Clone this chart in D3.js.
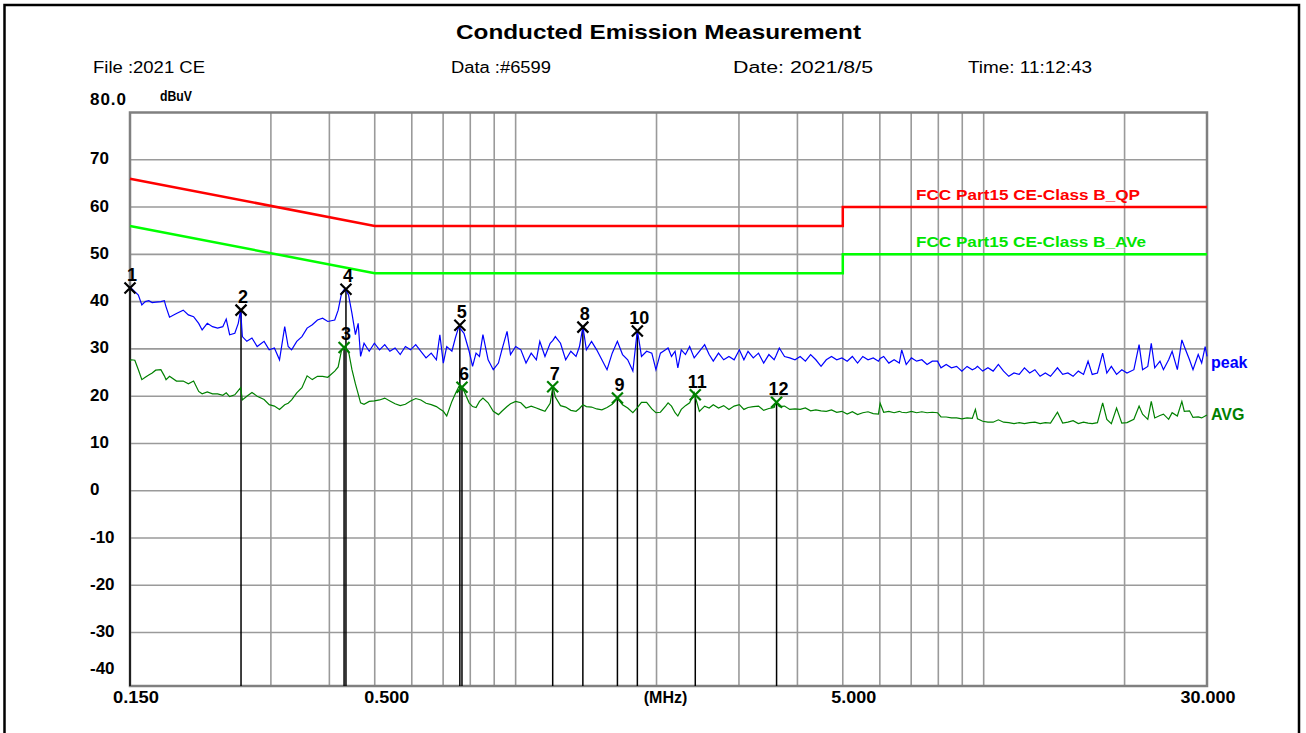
<!DOCTYPE html>
<html>
<head>
<meta charset="utf-8">
<script src="https://cdn.jsdelivr.net/npm/d3@7/dist/d3.min.js"></script>
<style>
  html, body { margin: 0; padding: 0; background: #fff; }
  svg text { font-family: "Liberation Sans", Arial, sans-serif; }
</style>
</head>
<body>
<div id="chart"></div>
<script>
// header texts
const titleText = "Conducted Emission Measurement";
const headerLabels = ["File :2021 CE", "Data :#6599", "Date: 2021/8/5", "Time: 11:12:43"];

// scan frequencies (MHz) with peak / average readings (dBuV)
const freqMHz = [
  0.150, 0.1511, 0.1536, 0.1563, 0.1590, 0.1617, 0.1645, 0.1673, 0.1702, 0.1746,
  0.1776, 0.1791, 0.1822, 0.1885, 0.1949, 0.1999, 0.2051, 0.2103, 0.2139, 0.2194,
  0.2251, 0.2308, 0.2368, 0.2408, 0.2449, 0.2512, 0.2555, 0.2585, 0.2607, 0.2665,
  0.2733, 0.2804, 0.2901, 0.2975, 0.3052, 0.3130, 0.3211, 0.3266, 0.3322, 0.3407,
  0.3495, 0.3585, 0.3678, 0.3772, 0.3869, 0.3969, 0.4107, 0.4177, 0.4248, 0.4321,
  0.4395, 0.4470, 0.4547, 0.4609, 0.4664, 0.4744, 0.4866, 0.4991, 0.5120, 0.5252,
  0.5387, 0.5526, 0.5668, 0.5814, 0.5964, 0.6117, 0.6275, 0.6436, 0.6602, 0.6772,
  0.6888, 0.7006, 0.7125, 0.7309, 0.7434, 0.7561, 0.7756, 0.7955, 0.8091, 0.8230,
  0.8370, 0.8514, 0.8734, 0.8958, 0.9189, 0.9346, 0.9587, 0.9751, 1.0002, 1.0260,
  1.0524, 1.0796, 1.1074, 1.1263, 1.1553, 1.1851, 1.2013, 1.2157, 1.2470, 1.2792,
  1.3121, 1.3460, 1.3690, 1.3924, 1.4162, 1.4527, 1.4900, 1.5285, 1.5678, 1.6082,
  1.6495, 1.6920, 1.7356, 1.7802, 1.8199, 1.8573, 1.9051, 1.9541, 1.9941, 2.0386,
  2.0910, 2.117, 2.153, 2.191, 2.221, 2.259, 2.306, 2.354, 2.407, 2.469,
  2.534, 2.591, 2.644, 2.713, 2.783, 2.856, 2.930, 3.006, 3.074, 3.137,
  3.219, 3.303, 3.388, 3.476, 3.567, 3.598, 3.659, 3.754, 3.852, 3.952,
  4.055, 4.160, 4.268, 4.379, 4.493, 4.610, 4.730, 4.853, 4.979, 5.109,
  5.241, 5.377, 5.517, 5.661, 5.808, 5.959, 6.009, 6.114, 6.272, 6.436,
  6.603, 6.681, 6.831, 7.008, 7.191, 7.377, 7.569, 7.766, 7.968, 8.105,
  8.316, 8.532, 8.754, 8.981, 9.215, 9.455, 9.601, 9.700, 9.952, 10.211,
  10.476, 10.749, 11.028, 11.315, 11.609, 11.911, 12.220, 12.538, 12.864, 13.198,
  13.541, 13.893, 14.376, 14.749, 15.133, 15.526, 15.930, 16.343, 16.711, 17.057,
  17.501, 17.956, 18.328, 18.740, 19.227, 19.727, 20.239, 20.936, 21.480, 21.851,
  22.419, 22.806, 23.200, 23.804, 24.214, 24.843, 25.271, 25.929, 26.511, 26.831,
  27.527, 28.004, 28.730, 29.225, 29.729, 30.000
];
const peakDb = [
  43.2, 42.8, 42.1, 41.4, 39.3, 40.0, 40.2, 39.8, 39.9, 40.0,
  40.2, 38.9, 36.7, 37.5, 38.2, 37.2, 36.8, 35.4, 34.0, 35.4,
  34.7, 34.4, 34.7, 36.3, 33.0, 33.3, 35.4, 38.2, 32.6, 31.6,
  32.3, 30.5, 31.6, 29.8, 30.2, 27.7, 34.7, 30.5, 29.8, 31.6,
  32.6, 34.4, 35.1, 36.1, 36.5, 35.8, 36.1, 38.2, 41.8, 42.8,
  41.4, 37.5, 33.0, 35.4, 28.4, 31.2, 29.5, 31.2, 29.8, 30.9,
  29.5, 30.2, 28.8, 30.5, 29.8, 30.9, 29.5, 28.1, 29.1, 27.7,
  33.0, 27.0, 30.5, 29.5, 32.3, 34.7, 33.3, 29.5, 26.3, 29.1,
  28.4, 33.0, 27.7, 25.6, 27.0, 29.8, 33.7, 28.8, 30.5, 29.8,
  27.0, 29.1, 27.7, 31.6, 28.4, 31.2, 31.8, 32.6, 31.2, 27.7,
  29.5, 28.4, 30.5, 34.7, 29.8, 31.6, 29.8, 27.7, 25.6, 29.1,
  31.6, 28.8, 27.7, 25.3, 34.0, 28.4, 29.5, 29.1, 25.6, 29.1,
  29.8, 30.2, 28.4, 29.5, 26.0, 29.8, 28.8, 30.5, 28.1, 29.5,
  30.9, 28.8, 27.4, 29.1, 27.7, 28.4, 27.7, 29.8, 27.7, 29.5,
  28.1, 29.1, 27.0, 28.8, 27.7, 28.5, 30.2, 28.4, 28.1, 27.7,
  28.4, 27.4, 28.8, 27.7, 26.3, 27.7, 28.4, 27.7, 28.1, 27.4,
  28.4, 27.0, 28.4, 27.7, 28.1, 27.4, 28.0, 28.4, 27.0, 27.7,
  27.0, 29.8, 26.7, 28.1, 27.4, 27.7, 26.7, 27.4, 27.4, 26.0,
  26.7, 26.0, 26.3, 25.3, 26.3, 25.6, 25.9, 26.3, 25.3, 26.0,
  25.3, 26.7, 25.3, 24.2, 24.9, 24.6, 26.0, 24.9, 25.6, 24.2,
  24.9, 24.2, 26.0, 24.6, 24.9, 24.2, 25.3, 24.6, 27.4, 24.6,
  24.9, 29.1, 24.9, 26.3, 24.6, 25.6, 24.9, 25.6, 30.9, 25.6,
  26.3, 31.2, 26.0, 27.4, 25.6, 27.7, 29.5, 25.6, 31.9, 30.5,
  27.7, 25.6, 28.8, 27.0, 30.5, 28.4
];
const avgDb = [
  27.5, 27.7, 27.6, 25.6, 23.5, 24.0, 24.5, 24.9, 25.5, 25.6,
  24.3, 23.5, 24.2, 23.2, 23.2, 22.6, 23.2, 21.0, 20.5, 20.9,
  20.5, 20.5, 20.2, 20.7, 19.9, 20.3, 21.2, 21.8, 19.2, 20.0,
  20.8, 20.0, 19.3, 18.2, 17.9, 17.2, 18.2, 18.5, 19.2, 20.7,
  21.8, 24.3, 23.5, 24.2, 24.2, 24.0, 25.3, 26.2, 29.8, 30.5,
  29.5, 25.6, 22.6, 20.5, 18.6, 18.3, 18.9, 19.0, 19.2, 19.6,
  19.0, 18.4, 18.0, 18.3, 19.0, 19.5, 19.2, 18.5, 18.2, 17.8,
  17.3, 16.8, 15.8, 18.9, 20.5, 22.0, 21.1, 18.6, 17.8, 17.6,
  18.9, 19.6, 18.6, 16.8, 16.1, 16.8, 17.8, 18.4, 18.9, 18.6,
  17.5, 17.9, 17.5, 17.2, 16.8, 18.5, 22.1, 19.8, 18.0, 17.7,
  17.0, 16.8, 17.4, 18.2, 17.8, 17.7, 17.3, 17.1, 17.6, 18.3,
  19.6, 18.2, 17.5, 16.5, 17.6, 18.7, 18.7, 17.3, 16.5, 16.6,
  17.9, 18.6, 17.9, 16.5, 15.8, 17.2, 18.0, 18.6, 20.7, 16.8,
  17.9, 17.5, 18.2, 17.5, 18.0, 17.2, 17.9, 18.2, 17.2, 17.6,
  17.8, 17.9, 17.0, 17.4, 17.6, 18.7, 17.8, 17.9, 17.2, 17.3,
  17.2, 17.5, 16.9, 17.1, 16.9, 16.8, 17.1, 16.6, 16.8, 16.2,
  16.7, 16.1, 16.5, 16.7, 16.3, 16.2, 18.5, 16.6, 16.8, 16.5,
  16.8, 16.6, 16.5, 16.8, 16.5, 16.7, 16.5, 16.6, 16.5, 15.6,
  15.6, 15.4, 15.4, 15.2, 15.4, 15.3, 17.2, 15.2, 14.7, 14.5,
  14.5, 15.0, 14.5, 14.4, 14.2, 14.4, 14.2, 14.4, 14.5, 14.2,
  14.4, 14.3, 16.6, 14.3, 14.5, 14.8, 14.2, 14.5, 14.3, 14.2,
  14.4, 18.6, 15.1, 14.2, 17.5, 14.3, 14.4, 15.1, 17.9, 16.2,
  15.1, 18.9, 15.4, 15.9, 16.2, 15.1, 16.5, 15.8, 18.9, 16.8,
  16.9, 15.5, 15.6, 15.4, 15.8, 16.0
];

// FCC Part 15 class B limits
const limitFreq = [0.15, 0.5, 5, 5, 30];
const qpLimitDb = [66, 56, 56, 60, 60];
const avLimitDb = [56, 46, 46, 50, 50];
const limitNames = ["FCC Part15 CE-Class B_QP", "FCC Part15 CE-Class B_AVe"];

// marked points
const markerNo = [1, 2, 3, 4, 5, 6, 7, 8, 9, 10, 11, 12];
const markerFreq = [0.150, 0.259, 0.430, 0.434, 0.760, 0.768, 1.200, 1.392, 1.650, 1.820, 2.420, 3.610];
const markerDb = [42.9, 38.2, 30.3, 42.6, 35.0, 21.9, 22.0, 34.6, 19.6, 33.8, 20.3, 18.7];
const markerTrace = ["peak", "peak", "avg", "peak", "peak", "avg", "avg", "peak", "avg", "peak", "avg", "avg"];

// axes
const xGridFreqs = [0.3, 0.4, 0.5, 0.6, 0.7, 0.8, 0.9, 1, 2, 3, 4, 5, 6, 7, 8, 9, 10, 20];
const xTickVals = [0.15, 0.5, 5, 30];
const xTickLabels = ["0.150", "0.500", "5.000", "30.000"];
const yGridVals = [70, 60, 50, 40, 30, 20, 10, 0, -10, -20, -30];
const yTickVals = [80, 70, 60, 50, 40, 30, 20, 10, 0, -10, -20, -30, -40];
const yTickLabels = ["80.0", "70", "60", "50", "40", "30", "20", "10", "0", "-10", "-20", "-30", "-40"];

const W = 1306, H = 733;
const plot = { left: 130, right: 1207, top: 112.5, bottom: 686 };

const svg = d3.select("#chart").append("svg")
    .attr("width", W).attr("height", H);

svg.append("rect").attr("width", W).attr("height", H).attr("fill", "#fff");

// page frame
svg.append("path")
    .attr("d", `M4.5,${H} L4.5,5 L1299,5 L1299,${H}`)
    .attr("fill", "none").attr("stroke", "#000").attr("stroke-width", 2.5);

let x = d3.scaleLog().domain([0.15, 30]).range([plot.left, plot.right]);
let y = d3.scaleLinear().domain([80, -41.3]).range([plot.top, plot.bottom]);

// titles
svg.append("text").attr("x", 456).attr("y", 39)
    .attr("font-size", 21).attr("font-weight", "bold")
    .attr("textLength", 405).attr("lengthAdjust", "spacingAndGlyphs")
    .text(titleText);

const headerX = [93, 451, 733, 968];
const headerW = [112, 100, 140, 124];
svg.selectAll(".hdr").data(headerLabels).join("text").classed("hdr", true)
    .attr("x", (d, i) => headerX[i]).attr("y", 73)
    .attr("font-size", 16)
    .attr("textLength", (d, i) => headerW[i]).attr("lengthAdjust", "spacingAndGlyphs")
    .text(d => d);

// grid
let grid = svg.append("g").attr("stroke", "#9a9a9a").attr("stroke-width", 1.6);
grid.selectAll(".vg").data(xGridFreqs).join("line")
    .attr("x1", d => x(d)).attr("x2", d => x(d))
    .attr("y1", plot.top).attr("y2", plot.bottom);
grid.selectAll(".hg").data(yGridVals).join("line")
    .attr("x1", plot.left).attr("x2", plot.right)
    .attr("y1", d => y(d)).attr("y2", d => y(d));

svg.append("rect")
    .attr("x", plot.left).attr("y", plot.top)
    .attr("width", plot.right - plot.left).attr("height", plot.bottom - plot.top)
    .attr("fill", "none").attr("stroke", "#808080").attr("stroke-width", 2.5);

// y labels
svg.selectAll(".ylab").data(yTickVals).join("text").classed("ylab", true)
    .attr("x", 90)
    .attr("y", (d, i) => {
        if (i === 0) return y(d) - 8;
        return Math.min(y(d) + 4.5, plot.bottom - 12.5);
    })
    .attr("font-size", 17).attr("font-weight", "bold")
    .attr("textLength", (d, i) => i === 0 ? 36 : null)
    .text((d, i) => yTickLabels[i]);

svg.append("text").attr("x", 160).attr("y", 101)
    .attr("font-size", 14).attr("font-weight", "bold")
    .attr("textLength", 32).attr("lengthAdjust", "spacingAndGlyphs").text("dBuV");

// x labels
const xLabelShift = [6, 12, 11, 1];
const xLabelW = [46, 45, 45, 55];
svg.selectAll(".xlab").data(xTickVals).join("text").classed("xlab", true)
    .attr("x", (d, i) => x(d) + xLabelShift[i] - xLabelW[i] / 2).attr("y", 703)
    .attr("font-size", 17).attr("font-weight", "bold")
    .attr("textLength", (d, i) => xLabelW[i]).attr("lengthAdjust", "spacingAndGlyphs")
    .text((d, i) => xTickLabels[i]);
svg.append("text").attr("x", (plot.left + plot.right) / 2 - 3).attr("y", 703)
    .attr("text-anchor", "middle")
    .attr("font-size", 16).attr("font-weight", "bold").text("(MHz)");

// limits
let limitLine = d3.line().x(d => x(d[0])).y(d => y(d[1]));
svg.append("path")
    .attr("d", limitLine(limitFreq.map((f, i) => [f, qpLimitDb[i]])))
    .attr("fill", "none").attr("stroke", "#ff0000").attr("stroke-width", 2.5);
svg.append("path")
    .attr("d", limitLine(limitFreq.map((f, i) => [f, avLimitDb[i]])))
    .attr("fill", "none").attr("stroke", "#00ff00").attr("stroke-width", 2.5);

svg.append("text").attr("x", 916).attr("y", y(60) - 7)
    .attr("font-size", 15).attr("font-weight", "bold").attr("fill", "#ff0000")
    .attr("textLength", 224).attr("lengthAdjust", "spacingAndGlyphs")
    .text(limitNames[0]);
svg.append("text").attr("x", 916).attr("y", y(50) - 7)
    .attr("font-size", 15).attr("font-weight", "bold").attr("fill", "#00e600")
    .attr("textLength", 230).attr("lengthAdjust", "spacingAndGlyphs")
    .text(limitNames[1]);

// traces
let traceLine = d3.line().x(d => x(d.f)).y(d => y(d.v));
let peakData = freqMHz.map((f, i) => ({ f: f, v: peakDb[i] }));
let avgData = freqMHz.map((f, i) => ({ f: f, v: avgDb[i] }));

// marker drop lines
let markers = markerNo.map((n, i) => ({ n: n, f: markerFreq[i], v: markerDb[i], t: markerTrace[i] }));
svg.append("g").selectAll("line").data(markers).join("line")
    .attr("x1", d => x(d.f)).attr("x2", d => x(d.f))
    .attr("y1", d => y(d.v)).attr("y2", plot.bottom)
    .attr("stroke", "#000").attr("stroke-width", 1.5);

svg.append("path").attr("d", traceLine(avgData))
    .attr("fill", "none").attr("stroke", "#008000").attr("stroke-width", 1.2);
svg.append("path").attr("d", traceLine(peakData))
    .attr("fill", "none").attr("stroke", "#0000ff").attr("stroke-width", 1.2);

svg.append("text").attr("x", 1211).attr("y", y(peakDb[peakDb.length - 1]) + 12)
    .attr("font-size", 16).attr("font-weight", "bold").attr("fill", "#0000ff").text("peak");
svg.append("text").attr("x", 1211).attr("y", y(avgDb[avgDb.length - 1]) + 5)
    .attr("font-size", 16).attr("font-weight", "bold").attr("fill", "#008000").text("AVG");

// marker crosses and numbers
let mk = svg.append("g").selectAll("g").data(markers).join("g")
    .attr("transform", d => `translate(${x(d.f)},${y(d.v)})`);
mk.append("path")
    .attr("d", "M-5.5,-5.5L5.5,5.5M5.5,-5.5L-5.5,5.5")
    .attr("stroke", d => d.t === "peak" ? "#000" : "#008000")
    .attr("stroke-width", 2.2).attr("fill", "none");
mk.append("text")
    .attr("x", 2).attr("y", -7)
    .attr("text-anchor", "middle")
    .attr("font-size", 18).attr("font-weight", "bold")
    .text(d => d.n);
</script>
</body>
</html>
